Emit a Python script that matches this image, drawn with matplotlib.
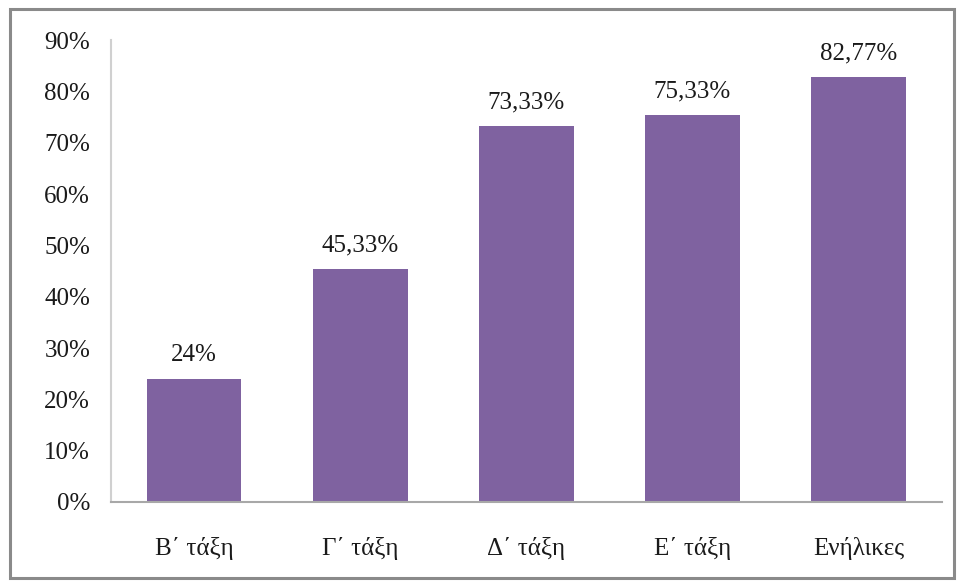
import matplotlib
matplotlib.use("Agg")
import matplotlib.pyplot as plt
from matplotlib.patches import Rectangle
from matplotlib.ticker import FuncFormatter

categories = ["Β΄ τάξη", "Γ΄ τάξη", "Δ΄ τάξη", "Ε΄ τάξη", "Ενήλικες"]
values = [24.0, 45.33, 73.33, 75.33, 82.77]
value_labels = ["24%", "45,33%", "73,33%", "75,33%", "82,77%"]
yticks = [0, 10, 20, 30, 40, 50, 60, 70, 80, 90]

BAR = "#7f62a0"
INK = "#1a1a1a"

plt.rcParams["font.family"] = ["Liberation Serif", "DejaVu Serif"]

fig = plt.figure(figsize=(9.58, 5.81), dpi=100)
fig.patch.set_facecolor("white")

# outer frame
fig.patches.append(Rectangle((0.010, 0.006), 0.986, 0.978, transform=fig.transFigure,
                             fill=False, ec="#8a8a8a", lw=2.2))

ax = fig.add_axes([0.1159, 0.136, 0.867, 0.795])
x = range(len(categories))
bars = ax.bar(x, values, width=0.57, color=BAR, zorder=2)
for b, lab in zip(bars, value_labels):
    ax.annotate(lab, (b.get_x() + b.get_width() / 2, b.get_height()),
                xytext=(0, 9), textcoords="offset points",
                ha="center", va="bottom", fontsize=18, color=INK)

ax.set_xlim(-0.5, len(categories) - 0.5)
ax.set_ylim(0, 90)
ax.set_yticks(yticks)
ax.yaxis.set_major_formatter(FuncFormatter(lambda v, p: "{:.0f}%".format(v)))
ax.set_xticks(list(x))
ax.set_xticklabels(categories)
ax.tick_params(axis="y", length=0, pad=15, labelsize=18, labelcolor=INK)
ax.tick_params(axis="x", length=0, pad=25, labelsize=18, labelcolor=INK)

for side in ("top", "right"):
    ax.spines[side].set_visible(False)
ax.spines["left"].set_color("#d0d0d0")
ax.spines["left"].set_linewidth(1.5)
ax.spines["bottom"].set_color("#a8a8a8")
ax.spines["bottom"].set_linewidth(1.5)

fig.savefig("out.png", dpi=100, facecolor="white")
